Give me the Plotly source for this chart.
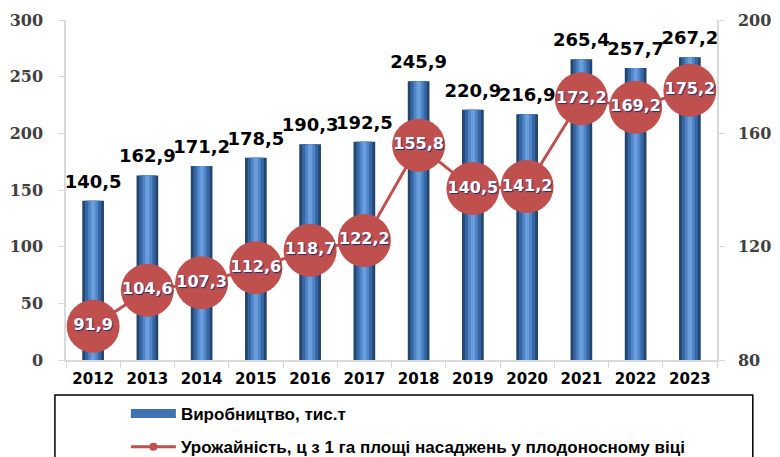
import plotly.graph_objects as go

years = ["2012", "2013", "2014", "2015", "2016", "2017", "2018", "2019", "2020", "2021", "2022", "2023"]
production = [140.5, 162.9, 171.2, 178.5, 190.3, 192.5, 245.9, 220.9, 216.9, 265.4, 257.7, 267.2]
yield_c = [91.9, 104.6, 107.3, 112.6, 118.7, 122.2, 155.8, 140.5, 141.2, 172.2, 169.2, 175.2]

name_prod = "Виробництво, тис.т"
name_yield = "Урожайність, ц з 1 га площі насаджень у плодоносному віці"

left_ticks = [0, 50, 100, 150, 200, 250, 300]
right_ticks = [80, 120, 160, 200]


def fmt(v):
    return f"{v:.1f}".replace(".", ",")


fig = go.Figure()

# cylinder-like bars: layered widths
for w, c in [(0.40, "#24456E"), (0.30, "#3767A3"), (0.18, "#4E85C8"), (0.08, "#6A9DDA")]:
    fig.add_trace(go.Bar(x=years, y=production, width=w, marker=dict(color=c, line=dict(width=0)),
                         showlegend=False, hoverinfo="skip"))

# bar value labels
fig.add_trace(go.Scatter(x=years, y=production, mode="markers+text",
                         marker=dict(size=12, opacity=0),
                         text=[fmt(v) for v in production], textposition="top center",
                         textfont=dict(family="DejaVu Sans", size=18, color="black", weight="bold"),
                         cliponaxis=False, showlegend=False))

# yield line
fig.add_trace(go.Scatter(x=years, y=yield_c, yaxis="y2", mode="lines+markers+text",
                         line=dict(color="#C0504D", width=3),
                         marker=dict(size=53, color="#C0504D"),
                         text=[fmt(v) for v in yield_c], textposition="middle center",
                         textfont=dict(family="DejaVu Sans", size=16, color="white", weight="bold",
                                       shadow="1px 1px 1px #1F2F6F"),
                         cliponaxis=False, showlegend=False))

# legend proxies
fig.add_trace(go.Scatter(x=[years[0]], y=[None], mode="lines", name=name_prod,
                         line=dict(color="#3E72B2", width=9), legendgroup="a"))
fig.add_trace(go.Scatter(x=[years[0]], y=[None], mode="lines+markers", name=name_yield,
                         line=dict(color="#C0504D", width=3), marker=dict(size=8, color="#C0504D"),
                         legendgroup="b"))

fig.update_layout(
    width=772, height=449,
    margin=dict(l=58, r=63, t=12, b=97, autoexpand=False),
    paper_bgcolor="white", plot_bgcolor="white",
    barmode="overlay",
    xaxis=dict(type="category", categoryorder="array", categoryarray=years, range=[-0.5, 11.5],
               showgrid=False, showline=True, linecolor="#D9D9D9", linewidth=1.5,
               ticks="outside", tickson="boundaries", ticklen=6, tickcolor="#D9D9D9", tickangle=0,
               tickfont=dict(family="DejaVu Sans", size=15, color="black", weight="bold"),
               ticklabelstandoff=4),
    yaxis=dict(range=[0, 300], tickvals=left_ticks, showgrid=False, zeroline=False,
               showline=True, linecolor="#D9D9D9", linewidth=1.5, ticks="outside", ticklen=6,
               tickcolor="#D9D9D9", ticklabelstandoff=12,
               tickfont=dict(family="DejaVu Serif", size=16, color="#404040", weight="bold")),
    yaxis2=dict(range=[80, 200], tickvals=right_ticks, overlaying="y", side="right", showgrid=False,
                zeroline=False, showline=True, linecolor="#D9D9D9", linewidth=1.5, ticks="outside",
                ticklen=6, tickcolor="#D9D9D9", ticklabelstandoff=10,
                tickfont=dict(family="DejaVu Serif", size=16, color="#404040", weight="bold")),
    legend=dict(x=0.092, y=-0.106, xanchor="left", yanchor="top", xref="paper", yref="paper",
                orientation="v", itemwidth=45, tracegroupgap=8,
                font=dict(family="Liberation Sans", size=17, color="black", weight="bold"),
                bgcolor="rgba(0,0,0,0)"),
    shapes=[dict(type="rect", xref="paper", yref="paper", x0=-0.017, x1=1.055, y0=-0.103, y1=-0.35,
                 line=dict(color="black", width=1.5), fillcolor="rgba(0,0,0,0)", layer="below")],
)

fig.write_html("out.html")
